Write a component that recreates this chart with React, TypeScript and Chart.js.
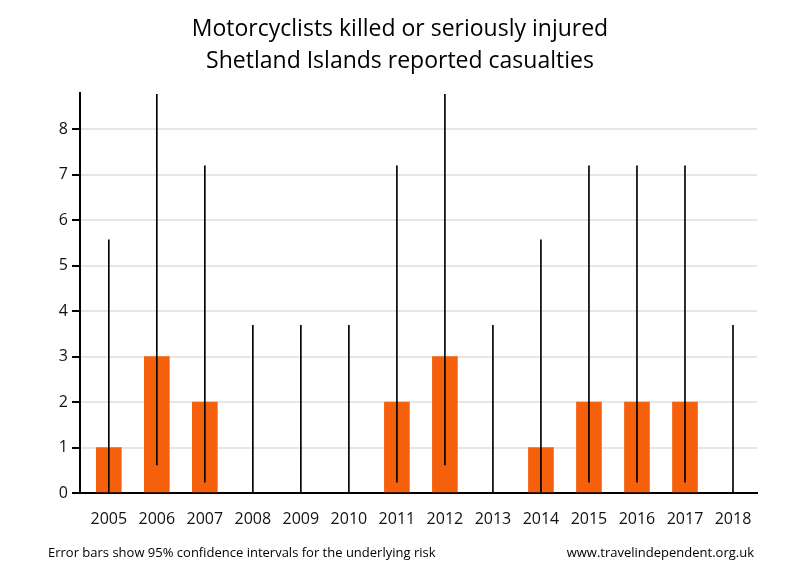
import React, { useEffect, useRef } from "react";
import { Chart, registerables } from "chart.js";

Chart.register(...registerables);

const years = ["2005","2006","2007","2008","2009","2010","2011","2012","2013","2014","2015","2016","2017","2018"];
const casualties = [1, 3, 2, 0, 0, 0, 2, 3, 0, 1, 2, 2, 2, 0];
const lowerCI = [0.03, 0.62, 0.24, 0, 0, 0, 0.24, 0.62, 0, 0.03, 0.24, 0.24, 0.24, 0];
const upperCI = [5.57, 8.77, 7.2, 3.69, 3.69, 3.69, 7.2, 8.77, 3.69, 5.57, 7.2, 7.2, 7.2, 3.69];
const yTicks = [0, 1, 2, 3, 4, 5, 6, 7, 8];
const titleLines = ["Motorcyclists killed or seriously injured", "Shetland Islands reported casualties"];
const footerLeft = "Error bars show 95% confidence intervals for the underlying risk";
const footerRight = "www.travelindependent.org.uk";

const FONT = "'Open Sans', 'DejaVu Sans', sans-serif";

export default function App() {
  const ref = useRef<HTMLCanvasElement | null>(null);

  useEffect(() => {
    if (!ref.current) return;
    const chart = new Chart(ref.current, {
      type: "bar",
      data: {
        datasets: [
          {
            label: "CI",
            data: years.map((_, i) => ({ x: i, y: [lowerCI[i], upperCI[i]] })) as any,
            backgroundColor: "#000000",
            barThickness: 1,
            grouped: false,
            order: 0,
          } as any,
          {
            label: "Casualties",
            data: years.map((_, i) => ({ x: i, y: casualties[i] === 0 ? null : casualties[i] })) as any,
            backgroundColor: "#F5600C",
            barThickness: 25,
            grouped: false,
            order: 1,
          } as any,
        ],
      },
      options: {
        animation: false,
        responsive: false,
        layout: { padding: { top: 0, right: 0, bottom: 47, left: 0 } },
        plugins: {
          legend: { display: false },
          tooltip: { enabled: false },
          title: {
            display: true,
            text: titleLines,
            color: "#000",
            font: { family: FONT, size: 23, weight: "normal", lineHeight: "32px" } as any,
            padding: { top: 13, bottom: 16 },
          },
        },
        scales: {
          x: {
            type: "linear",
            min: -0.6,
            max: 13.5,
            offset: false,
            grid: { display: false, drawTicks: false },
            border: { display: true, color: "#000", width: 2 },
            afterFit: (s: any) => { s.height = 40; },
            ticks: {
              stepSize: 1,
              includeBounds: false,
              autoSkip: false,
              maxRotation: 0,
              padding: 17,
              color: "#111",
              font: { family: FONT, size: 16 },
              callback: (v: any) => (Number.isInteger(v) ? years[v] : ""),
            },
          } as any,
          y: {
            type: "linear",
            min: 0,
            max: 8.8,
            afterFit: (s: any) => { s.width = 80; },
            afterBuildTicks: (s: any) => { s.ticks = yTicks.map((v) => ({ value: v })); },
            grid: {
              color: "#e6e6e6",
              lineWidth: 2,
              tickColor: "#000",
              tickLength: 8,
              tickWidth: 2,
            },
            border: { display: true, color: "#000", width: 2 },
            ticks: {
              stepSize: 1,
              includeBounds: false,
              padding: 4,
              color: "#111",
              font: { family: FONT, size: 16 },
            },
          } as any,
          yRight: {
            type: "linear",
            position: "right",
            min: 0,
            max: 8.8,
            afterFit: (s: any) => { s.width = 43; },
            grid: { display: false, drawTicks: false },
            border: { display: false },
            ticks: { display: false },
          } as any,
        },
      },
    });
    return () => chart.destroy();
  }, []);

  const footStyle: React.CSSProperties = {
    position: "absolute",
    top: 543,
    fontFamily: "'Liberation Sans Narrow', 'Open Sans', sans-serif",
    fontSize: 13,
    color: "#000",
    whiteSpace: "nowrap",
  };

  return (
    <div style={{ position: "absolute", left: 0, top: 0, width: 800, height: 580, background: "#fff" }}>
      <canvas ref={ref} width={800} height={580} style={{ display: "block" }} />
      <div style={{ ...footStyle, left: 48 }}>{footerLeft}</div>
      <div style={{ ...footStyle, right: 46 }}>{footerRight}</div>
    </div>
  );
}
